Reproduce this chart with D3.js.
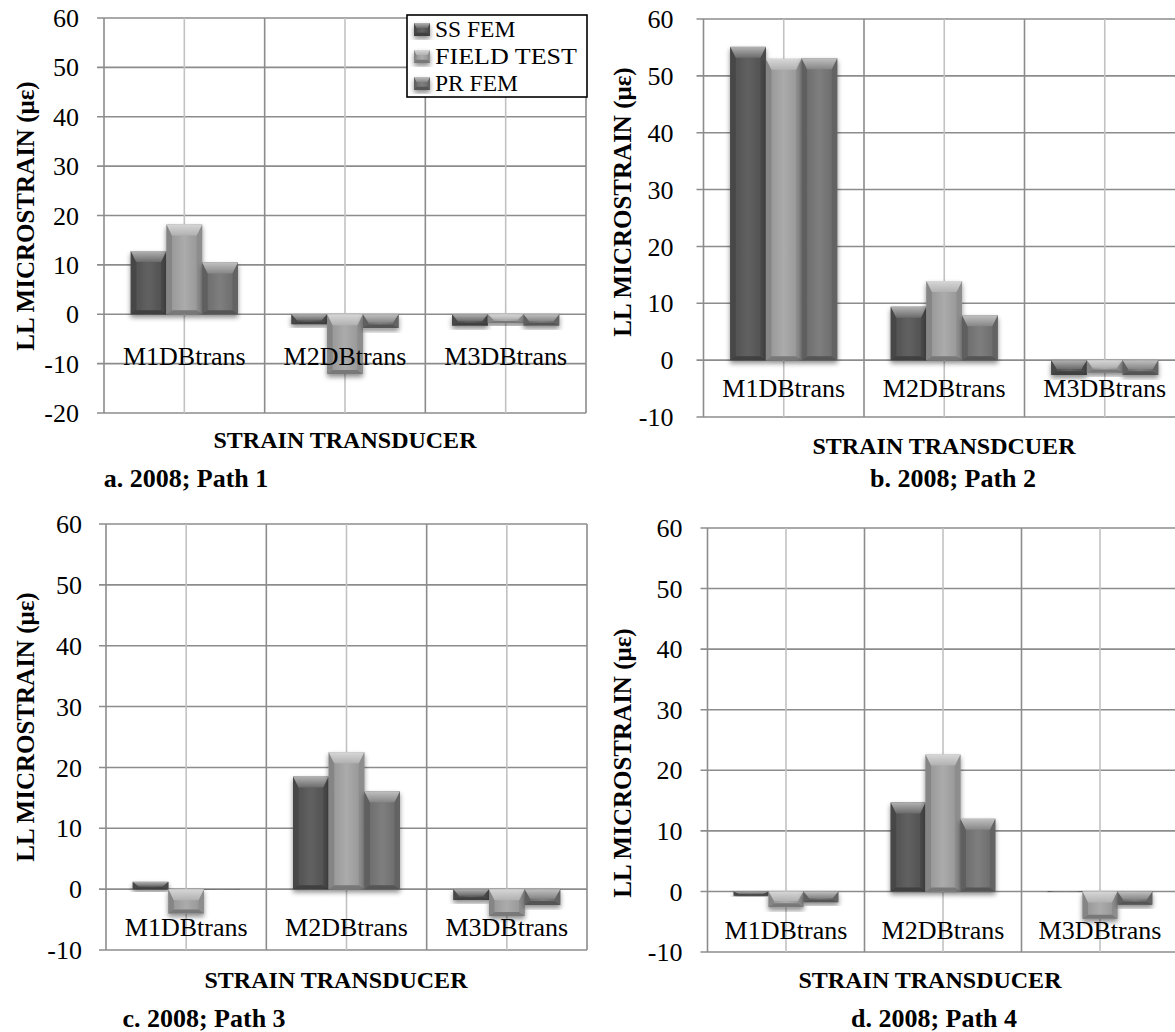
<!DOCTYPE html>
<html>
<head>
<meta charset="utf-8">
<script src="https://cdn.jsdelivr.net/npm/d3@7"></script>
<style>
  html, body { margin: 0; padding: 0; background: #ffffff; }
  svg { display: block; }
  text { font-family: "Liberation Serif", "Times New Roman", Tinos, serif; fill: #000; }
</style>
</head>
<body>
<svg id="chart" width="1175" height="1032"></svg>
<script>
// ---------------- DATA ----------------
const categories = ["M1DBtrans", "M2DBtrans", "M3DBtrans"];
const seriesNames = ["SS FEM", "FIELD TEST", "PR FEM"];

const yTicksPath1 = [-20, -10, 0, 10, 20, 30, 40, 50, 60];
const yTicksOther = [-10, 0, 10, 20, 30, 40, 50, 60];

const path1SsFem     = [12.8, -2.0, -2.3];
const path1FieldTest = [18.2, -12.1, -1.8];
const path1PrFem     = [10.5, -2.8, -2.3];

const path2SsFem     = [55.1, 9.4, -2.6];
const path2FieldTest = [53.0, 13.9, -2.2];
const path2PrFem     = [53.1, 7.9, -2.6];

const path3SsFem     = [1.2, 18.5, -1.8];
const path3FieldTest = [-4.0, 22.5, -4.4];
const path3PrFem     = [-0.1, 16.1, -2.6];

const path4SsFem     = [-0.7, 14.7, -0.1];
const path4FieldTest = [-2.6, 22.6, -4.5];
const path4PrFem     = [-1.8, 12.0, -2.2];

const panelCaptions = ["a. 2008; Path 1", "b. 2008; Path 2", "c. 2008; Path 3", "d. 2008; Path 4"];
const xAxisTitles = ["STRAIN TRANSDUCER", "STRAIN TRANSDCUER", "STRAIN TRANSDUCER", "STRAIN TRANSDUCER"];
const yAxisTitle = "LL MICROSTRAIN (\u03BC\u03B5)";

// ---------------- LAYOUT ----------------
const baseColors = ["#575757", "#a6a6a6", "#767676"];

const panels = [
  { series: [path1SsFem, path1FieldTest, path1PrFem], ticks: yTicksPath1,
    left: 104, right: 586, top: 18, bottom: 413, labelGap: 25, catBase: 365,
    xTitle: [345, 448], caption: [186, 487], yTitle: [25, 216], legend: true },
  { series: [path2SsFem, path2FieldTest, path2PrFem], ticks: yTicksOther,
    left: 703.5, right: 1185, top: 19, bottom: 417, labelGap: 30, catBase: 397,
    xTitle: [944, 454], caption: [953, 487], yTitle: [622, 202] },
  { series: [path3SsFem, path3FieldTest, path3PrFem], ticks: yTicksOther,
    left: 106, right: 587, top: 524, bottom: 950, labelGap: 24, catBase: 936,
    xTitle: [336, 988], caption: [204, 1027], yTitle: [25, 727] },
  { series: [path4SsFem, path4FieldTest, path4PrFem], ticks: yTicksOther,
    left: 707.5, right: 1178.5, top: 528, bottom: 952, labelGap: 25, catBase: 939,
    xTitle: [930, 988], caption: [934, 1027], yTitle: [622, 763] }
];

const svg = d3.select("#chart");
svg.append("rect").attr("width", 1175).attr("height", 1032).attr("fill", "#fff");

// ---------------- DEFS ----------------
const defs = svg.append("defs");
const shadow = defs.append("filter").attr("id", "shadow")
  .attr("x", "-30%").attr("y", "-30%").attr("width", "160%").attr("height", "160%");
shadow.append("feDropShadow").attr("dx", 0).attr("dy", 3).attr("stdDeviation", 2.5)
  .attr("flood-color", "#000").attr("flood-opacity", 0.45);

function mix(c, t, k) { return d3.interpolateRgb(c, t)(k); }

baseColors.forEach((c, i) => {
  const body = defs.append("linearGradient").attr("id", "body" + i)
    .attr("x1", 0).attr("x2", 1).attr("y1", 0).attr("y2", 0);
  body.append("stop").attr("offset", "0%").attr("stop-color", mix(c, "#000", 0.12));
  body.append("stop").attr("offset", "50%").attr("stop-color", mix(c, "#fff", 0.06));
  body.append("stop").attr("offset", "100%").attr("stop-color", mix(c, "#000", 0.12));
  const bev = defs.append("linearGradient").attr("id", "bevel" + i)
    .attr("x1", 0).attr("x2", 0).attr("y1", 0).attr("y2", 1);
  bev.append("stop").attr("offset", "0%").attr("stop-color", mix(c, "#fff", 0.55));
  bev.append("stop").attr("offset", "100%").attr("stop-color", mix(c, "#fff", 0.12));
});

function drawBar(g, x, y, w, h, i, depth) {
  const c = baseColors[i];
  const grp = g.append("g").attr("filter", "url(#shadow)");
  grp.append("rect").attr("x", x).attr("y", y).attr("width", w).attr("height", Math.max(h, 0.5))
    .attr("fill", `url(#body${i})`);
  const d = Math.min(depth, h * 0.6);
  const s = Math.min(depth * 0.5, w / 4);
  const b = Math.min(4, h * 0.25);
  grp.append("path").attr("d", `M${x},${y}L${x + s},${y + d}L${x + s},${y + h - b}L${x},${y + h}Z`)
    .attr("fill", mix(c, "#000", 0.2));
  grp.append("path").attr("d", `M${x + w},${y}L${x + w - s},${y + d}L${x + w - s},${y + h - b}L${x + w},${y + h}Z`)
    .attr("fill", mix(c, "#000", 0.15));
  grp.append("path").attr("d", `M${x},${y + h}L${x + s},${y + h - b}L${x + w - s},${y + h - b}L${x + w},${y + h}Z`)
    .attr("fill", mix(c, "#000", 0.28));
  grp.append("path").attr("d", `M${x},${y}L${x + w},${y}L${x + w - s},${y + d}L${x + s},${y + d}Z`)
    .attr("fill", `url(#bevel${i})`);
}

const gridDark = "#8c8c8c";
const gridLight = "#c2c2c2";

panels.forEach((p, pi) => {
  const g = svg.append("g");
  const ymin = p.ticks[0], ymax = p.ticks[p.ticks.length - 1];
  const y = d3.scaleLinear().domain([ymin, ymax]).range([p.bottom, p.top]);
  const x0 = d3.scaleBand().domain(categories).range([p.left, p.right]).paddingInner(0).paddingOuter(0);
  const x1 = d3.scaleBand().domain(seriesNames).range([0, x0.bandwidth()]).paddingInner(0).paddingOuter(0.75);

  g.selectAll(".hg").data(p.ticks).enter().append("line")
    .attr("x1", p.left - 7).attr("x2", p.right)
    .attr("y1", d => y(d)).attr("y2", d => y(d))
    .attr("stroke", gridDark).attr("stroke-width", 1.6);

  g.selectAll(".mv").data(categories).enter().append("line")
    .attr("x1", d => x0(d) + x0.bandwidth() / 2).attr("x2", d => x0(d) + x0.bandwidth() / 2)
    .attr("y1", p.top).attr("y2", p.bottom)
    .attr("stroke", gridLight).attr("stroke-width", 1.6);

  const bounds = categories.map(c => x0(c)).concat([p.right]);
  g.selectAll(".cv").data(bounds).enter().append("line")
    .attr("x1", d => d).attr("x2", d => d)
    .attr("y1", p.top).attr("y2", p.bottom)
    .attr("stroke", gridDark).attr("stroke-width", 1.6);

  g.selectAll(".yl").data(p.ticks).enter().append("text")
    .attr("x", p.left - p.labelGap).attr("y", d => y(d)).attr("dy", "0.35em")
    .attr("text-anchor", "end").attr("font-size", 26).text(d => d);

  const barG = g.append("g");
  categories.forEach((cat, ci) => {
    p.series.forEach((arr, si) => {
      const v = arr[ci];
      const yTop = y(Math.max(v, 0));
      const h = Math.abs(y(v) - y(0));
      drawBar(barG, x0(cat) + x1(seriesNames[si]), yTop, x1.bandwidth(), h, si, 11);
    });
  });

  g.selectAll(".cl").data(categories).enter().append("text")
    .attr("x", d => x0(d) + x0.bandwidth() / 2).attr("y", p.catBase)
    .attr("text-anchor", "middle").attr("font-size", 26).text(d => d);

  g.append("text").attr("x", p.xTitle[0]).attr("y", p.xTitle[1])
    .attr("text-anchor", "middle").attr("font-size", 24).attr("font-weight", "bold")
    .text(xAxisTitles[pi]);
  g.append("text").attr("x", p.caption[0]).attr("y", p.caption[1])
    .attr("text-anchor", "middle").attr("font-size", 26).attr("font-weight", "bold")
    .text(panelCaptions[pi]);
  g.append("text")
    .attr("transform", `translate(${p.yTitle[0]},${p.yTitle[1]}) rotate(-90)`)
    .attr("dy", "0.35em").attr("text-anchor", "middle")
    .attr("font-size", 25).attr("font-weight", "bold").text(yAxisTitle);

  if (p.legend) {
    const lg = svg.append("g");
    lg.append("rect").attr("x", 407).attr("y", 15).attr("width", 180).attr("height", 82)
      .attr("fill", "#fff").attr("stroke", "#000").attr("stroke-width", 1.6);
    const rowY = d3.scalePoint().domain(seriesNames).range([37, 91]);
    seriesNames.forEach((s, si) => {
      drawBar(lg, 414, rowY(s) - 14, 16, 13, si, 5);
      lg.append("text").attr("x", 435).attr("y", rowY(s)).attr("font-size", 23.5)
        .attr("textLength", 142).attr("lengthAdjust", "spacingAndGlyphs")
        .text(s).attr("textLength", s === "FIELD TEST" ? 142 : null);
    });
  }
});
</script>
</body>
</html>
